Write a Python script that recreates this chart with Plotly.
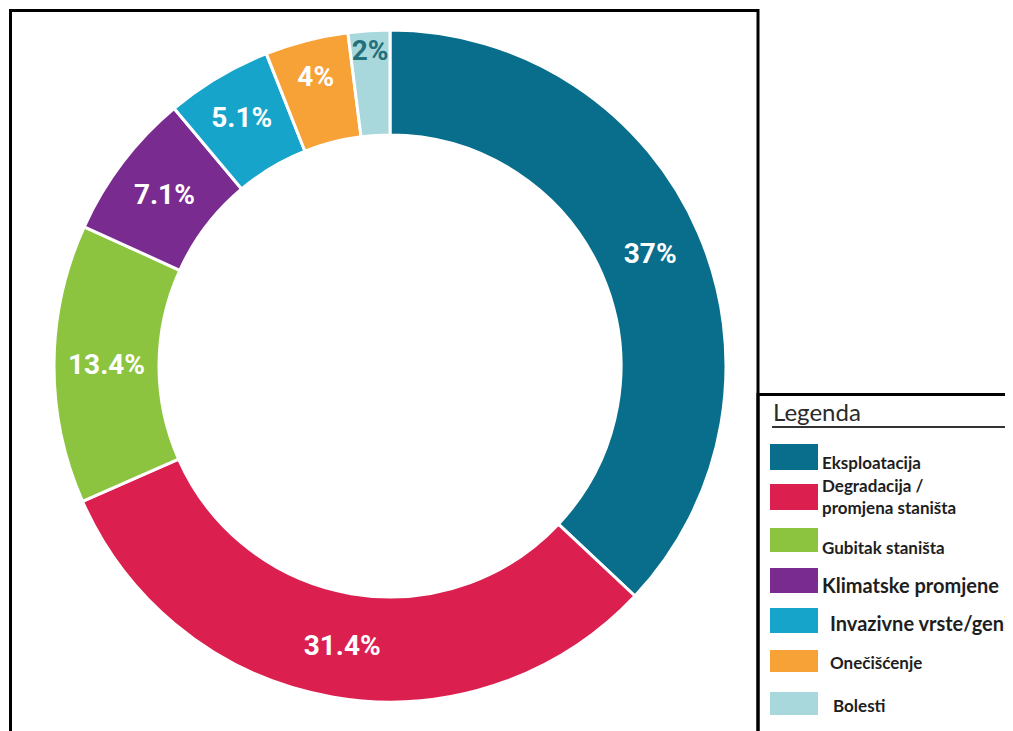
import plotly.graph_objects as go

# ---- data ----
categories = ["Eksploatacija", "Degradacija / promjena staništa", "Gubitak staništa",
              "Klimatske promjene", "Invazivne vrste/geni", "Onečišćenje", "Bolesti"]
values = [37, 31.4, 13.4, 7.1, 5.1, 4, 2]
value_labels = ["37%", "31.4%", "13.4%", "7.1%", "5.1%", "4%", "2%"]
legend_lines = ["Eksploatacija", "Degradacija /<br>promjena staništa", "Gubitak staništa",
                "Klimatske promjene", "Invazivne vrste/geni", "Onečišćenje", "Bolesti"]
legend_title = "Legenda"

# ---- style ----
colors = ["#086E8B", "#DB1F4F", "#8CC43F", "#7A2B8F", "#17A4CA", "#F6A236", "#A8D8DC"]
label_colors = ["#FFFFFF", "#FFFFFF", "#FFFFFF", "#FFFFFF", "#FFFFFF", "#FFFFFF", "#22707A"]

# the page body has an 8px margin, so the figure starts at (8, 8) in the window
OFF = 8
W, H = 1005, 723


def px(x):
    return (x - OFF) / W


def py(y):
    return 1 - (y - OFF) / H


cx, cy, R = 390, 366, 336

fig = go.Figure(go.Pie(
    labels=categories,
    values=values,
    text=value_labels,
    textinfo="text",
    textposition="inside",
    insidetextorientation="horizontal",
    textfont=dict(family="Roboto, Liberation Sans, sans-serif",
                  size=28, color=label_colors, weight="bold"),
    marker=dict(colors=colors, line=dict(color="white", width=3)),
    hole=0.6875,
    sort=False,
    direction="clockwise",
    rotation=0,
    domain=dict(x=[px(cx - R), px(cx + R)], y=[py(cy + R), py(cy - R)]),
    showlegend=False,
    hoverinfo="label+percent",
))

shapes = [
    # main frame
    dict(type="rect", xref="paper", yref="paper", x0=px(10.5), y0=py(760), x1=px(758), y1=py(10.5),
         line=dict(color="black", width=3), fillcolor="rgba(0,0,0,0)"),
    # legend frame
    dict(type="rect", xref="paper", yref="paper", x0=px(758), y0=py(760), x1=px(1040), y1=py(394.5),
         line=dict(color="black", width=3), fillcolor="rgba(0,0,0,0)"),
    # legend title underline
    dict(type="line", xref="paper", yref="paper", x0=px(772), y0=py(427), x1=px(1007), y1=py(427),
         line=dict(color="#333333", width=2)),
]

annotations = [
    dict(text=legend_title, xref="paper", yref="paper", x=px(771), y=py(411), xanchor="left",
         yanchor="middle", showarrow=False,
         font=dict(family="Lato, Open Sans, sans-serif", size=24, color="#2a2a2a")),
]

# legend row layout (pixel positions in the window)
swatch_top = [444, 484, 528, 568, 608, 650, 692]
swatch_bot = [470, 510, 552, 593, 633, 672, 715]
text_y = [462, 496, 547, 585, 623, 662, 705]
text_x = [820, 820, 820, 820, 828, 828, 831]
text_size = [17, 17, 17, 20, 20, 17, 17]

for i, lab in enumerate(legend_lines):
    shapes.append(dict(type="rect", xref="paper", yref="paper",
                       x0=px(770), x1=px(818), y0=py(swatch_bot[i]), y1=py(swatch_top[i]),
                       line=dict(width=0), fillcolor=colors[i]))
    annotations.append(dict(text=lab, xref="paper", yref="paper", x=px(text_x[i]), y=py(text_y[i]),
                            xanchor="left", yanchor="middle", align="left", showarrow=False,
                            font=dict(family="Lato, Open Sans, sans-serif", size=text_size[i],
                                      color="#1e1e1e", weight="bold")))

fig.update_layout(
    width=W, height=H,
    margin=dict(l=0, r=0, t=0, b=0),
    paper_bgcolor="white",
    plot_bgcolor="white",
    uniformtext=dict(minsize=28, mode="show"),
    shapes=shapes,
    annotations=annotations,
)

fig.write_html("out.html")
